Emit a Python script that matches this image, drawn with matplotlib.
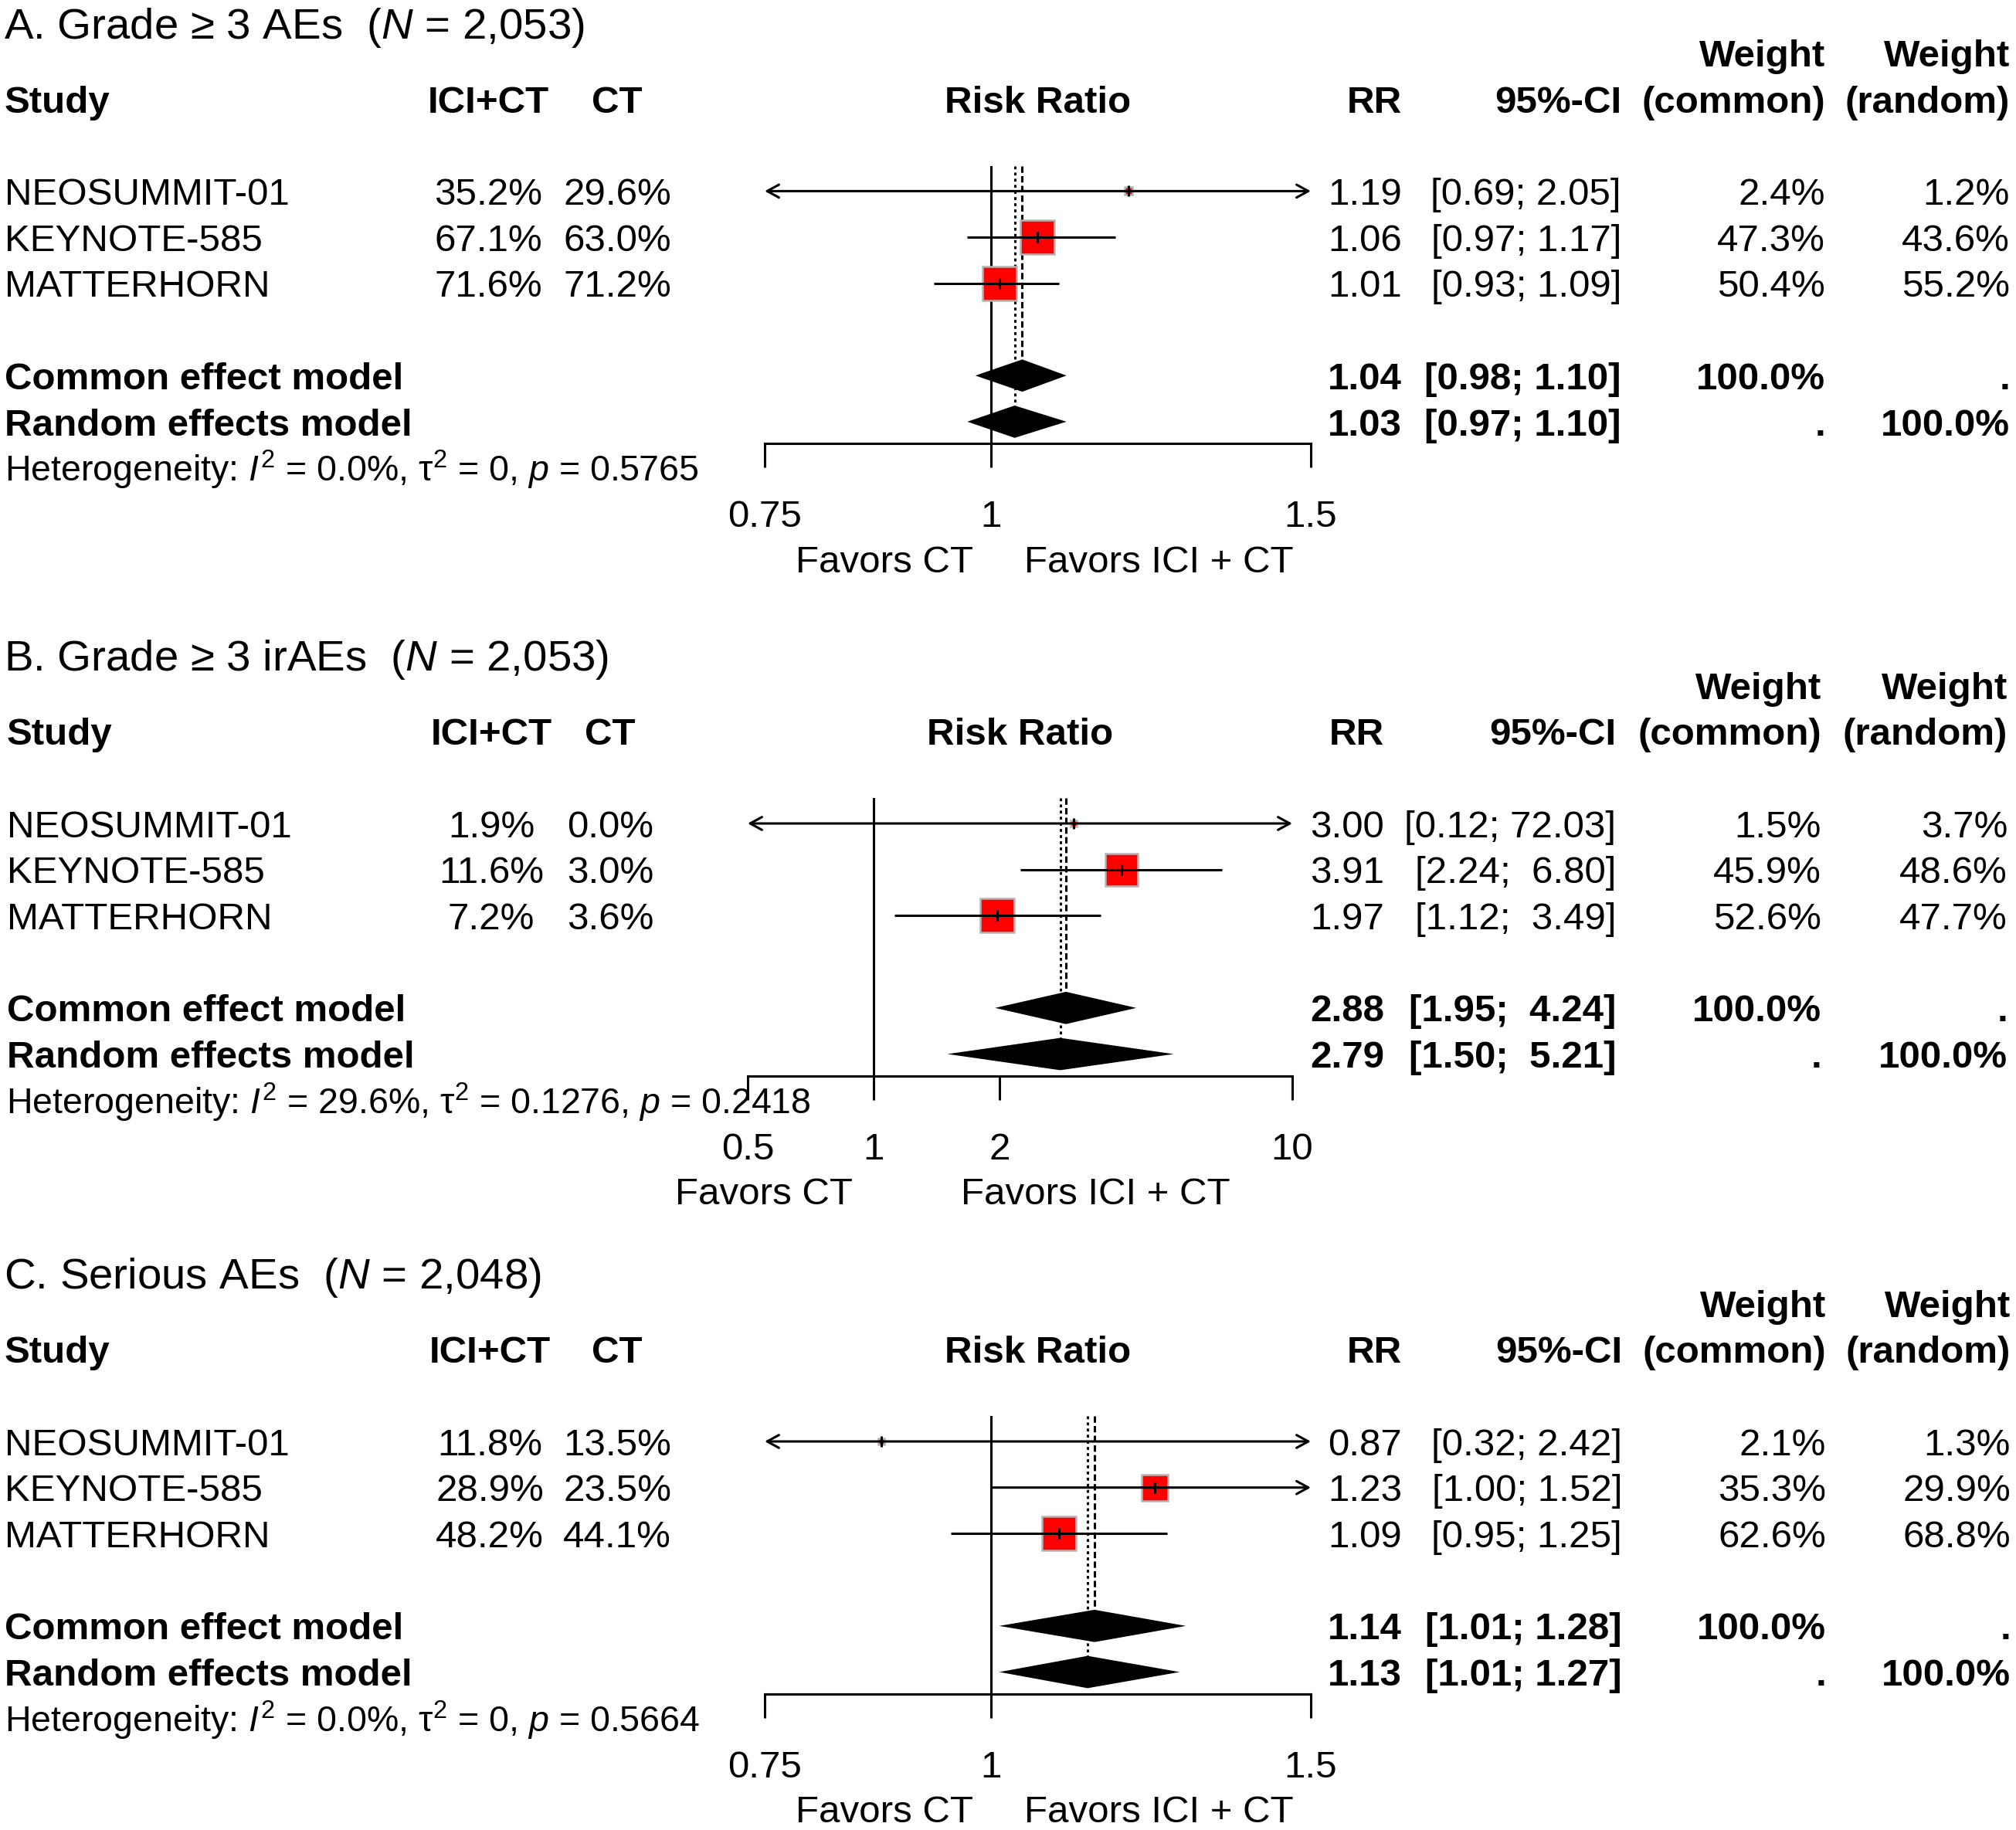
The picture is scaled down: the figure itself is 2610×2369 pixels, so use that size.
import numpy as np
import matplotlib
matplotlib.use("Agg")
import matplotlib.pyplot as plt
from matplotlib.ticker import FixedLocator, FixedFormatter, NullLocator

plt.rcParams['font.family'] = ['Liberation Sans', 'DejaVu Sans']
plt.rcParams['mathtext.fontset'] = 'custom'
plt.rcParams['mathtext.rm'] = 'Liberation Sans'
plt.rcParams['mathtext.it'] = 'Liberation Sans:italic'
plt.rcParams['mathtext.bf'] = 'Liberation Sans:bold'

# ---------------- data ----------------
studies = ["NEOSUMMIT-01", "KEYNOTE-585", "MATTERHORN"]

a_title = "A. Grade ≥ 3 AEs"
a_n = "2,053"
a_ici = [35.2, 67.1, 71.6]
a_ct = [29.6, 63.0, 71.2]
a_rr = [1.19, 1.06, 1.01]
a_lo = [0.69, 0.97, 0.93]
a_hi = [2.05, 1.17, 1.09]
a_wc = [2.4, 47.3, 50.4]
a_wr = [1.2, 43.6, 55.2]
a_common = [1.04, 0.98, 1.10]
a_random = [1.03, 0.97, 1.10]
a_het = ["0.0%", "0", "0.5765"]
a_ticks = [0.75, 1, 1.5]
a_ticklabels = ["0.75", "1", "1.5"]

b_title = "B. Grade ≥ 3 irAEs"
b_n = "2,053"
b_ici = [1.9, 11.6, 7.2]
b_ct = [0.0, 3.0, 3.6]
b_rr = [3.00, 3.91, 1.97]
b_lo = [0.12, 2.24, 1.12]
b_hi = [72.03, 6.80, 3.49]
b_wc = [1.5, 45.9, 52.6]
b_wr = [3.7, 48.6, 47.7]
b_common = [2.88, 1.95, 4.24]
b_random = [2.79, 1.50, 5.21]
b_het = ["29.6%", "0.1276", "0.2418"]
b_ticks = [0.5, 1, 2, 10]
b_ticklabels = ["0.5", "1", "2", "10"]

c_title = "C. Serious AEs"
c_n = "2,048"
c_ici = [11.8, 28.9, 48.2]
c_ct = [13.5, 23.5, 44.1]
c_rr = [0.87, 1.23, 1.09]
c_lo = [0.32, 1.00, 0.95]
c_hi = [2.42, 1.52, 1.25]
c_wc = [2.1, 35.3, 62.6]
c_wr = [1.3, 29.9, 68.8]
c_common = [1.14, 1.01, 1.28]
c_random = [1.13, 1.01, 1.27]
c_het = ["0.0%", "0", "0.5664"]
c_ticks = [0.75, 1, 1.5]
c_ticklabels = ["0.75", "1", "1.5"]

label_left = "Favors CT"
label_right = "Favors ICI + CT"

panels = [
    dict(title=a_title, n=a_n, ici=a_ici, ct=a_ct, rr=a_rr, lo=a_lo, hi=a_hi, wc=a_wc, wr=a_wr,
         common=a_common, random=a_random, het=a_het, ticks=a_ticks, ticklabels=a_ticklabels),
    dict(title=b_title, n=b_n, ici=b_ici, ct=b_ct, rr=b_rr, lo=b_lo, hi=b_hi, wc=b_wc, wr=b_wr,
         common=b_common, random=b_random, het=b_het, ticks=b_ticks, ticklabels=b_ticklabels),
    dict(title=c_title, n=c_n, ici=c_ici, ct=c_ct, rr=c_rr, lo=c_lo, hi=c_hi, wc=c_wc, wr=c_wr,
         common=c_common, random=c_random, het=c_het, ticks=c_ticks, ticklabels=c_ticklabels),
]

# ---------------- layout (pixels) ----------------
W, H = 2610, 2369
ROW = 59.7
FS = 35.5
TFS = 40.6
HFS = 33.5
LW = 2.2
layouts = [
    dict(base=128.0, study_x=6, ici_c=632, ct_c=799, rr_r=1815, ci_r=2099, wc_r=2363, wr_r=2602,
         plot_l=990, plot_r=1697, fav_l=1144.5, fav_r=1500, het_x=6),
    dict(base=946.6, study_x=9, ici_c=636, ct_c=790, rr_r=1792, ci_r=2092, wc_r=2358, wr_r=2599,
         plot_l=968, plot_r=1673, fav_l=989.5, fav_r=1418, het_x=8),
    dict(base=1746.6, study_x=6, ici_c=634, ct_c=799, rr_r=1815, ci_r=2100, wc_r=2364, wr_r=2603,
         plot_l=990, plot_r=1697, fav_l=1144.5, fav_r=1500, het_x=6),
]
ROW_TOP = 1.45
ROW_AXIS = 7.47
DIA_H = 0.35

fig = plt.figure(figsize=(W / 100, H / 100), dpi=100)
ov = fig.add_axes([0, 0, 1, 1])
ov.set_xlim(0, W)
ov.set_ylim(H, 0)
ov.axis('off')


def em(size):
    return size * 100 / 72


def put(x, yc, s, ha='left', bold=False, size=FS):
    ov.text(x, yc + 0.358 * em(size), s, ha=ha, va='baseline', fontsize=size,
            fontweight='bold' if bold else 'normal')


def fmt_ci(lo, hi, wlo, whi):
    return "[" + f"{lo:.2f}".rjust(wlo) + "; " + f"{hi:.2f}".rjust(whi) + "]"


for P, L in zip(panels, layouts):
    base = L['base']

    def ry(r):
        return base + r * ROW

    put(5, base - 98.5, P['title'] + "  ($\\mathit{N}$ = " + P['n'] + ")", size=TFS)

    # headers
    put(L['study_x'], ry(0), "Study", bold=True)
    put(L['ici_c'], ry(0), "ICI+CT", 'center', True)
    put(L['ct_c'], ry(0), "CT", 'center', True)
    put((L['plot_l'] + L['plot_r']) / 2, ry(0), "Risk Ratio", 'center', True)
    put(L['rr_r'], ry(0), "RR", 'right', True)
    put(L['ci_r'], ry(0), "95%-CI", 'right', True)
    put(L['wc_r'], ry(-1), "Weight", 'right', True)
    put(L['wc_r'], ry(0), "(common)", 'right', True)
    put(L['wr_r'], ry(-1), "Weight", 'right', True)
    put(L['wr_r'], ry(0), "(random)", 'right', True)

    all_lo = list(P['lo']) + [P['common'][1], P['random'][1]]
    all_hi = list(P['hi']) + [P['common'][2], P['random'][2]]
    wlo = max(len(f"{v:.2f}") for v in all_lo)
    whi = max(len(f"{v:.2f}") for v in all_hi)

    study_rows = [2 + i for i in range(len(studies))]
    for i, r in enumerate(study_rows):
        put(L['study_x'], ry(r), studies[i])
        put(L['ici_c'], ry(r), f"{P['ici'][i]:.1f}%", 'center')
        put(L['ct_c'], ry(r), f"{P['ct'][i]:.1f}%", 'center')
        put(L['rr_r'], ry(r), f"{P['rr'][i]:.2f}", 'right')
        put(L['ci_r'], ry(r), fmt_ci(P['lo'][i], P['hi'][i], wlo, whi), 'right')
        put(L['wc_r'], ry(r), f"{P['wc'][i]:.1f}%", 'right')
        put(L['wr_r'], ry(r), f"{P['wr'][i]:.1f}%", 'right')

    r_com = study_rows[-1] + 2
    r_ran = r_com + 1
    put(L['study_x'], ry(r_com), "Common effect model", bold=True)
    put(L['rr_r'], ry(r_com), f"{P['common'][0]:.2f}", 'right', True)
    put(L['ci_r'], ry(r_com), fmt_ci(P['common'][1], P['common'][2], wlo, whi), 'right', True)
    put(L['wc_r'], ry(r_com), "100.0%", 'right', True)
    put(L['wr_r'], ry(r_com), ".", 'right', True)
    put(L['study_x'], ry(r_ran), "Random effects model", bold=True)
    put(L['rr_r'], ry(r_ran), f"{P['random'][0]:.2f}", 'right', True)
    put(L['ci_r'], ry(r_ran), fmt_ci(P['random'][1], P['random'][2], wlo, whi), 'right', True)
    put(L['wc_r'], ry(r_ran), ".", 'right', True)
    put(L['wr_r'], ry(r_ran), "100.0%", 'right', True)

    i2, tau2, pval = P['het']
    put(L['het_x'], ry(r_ran + 1.02),
        "Heterogeneity: $\\mathit{I}^{2}$ = " + i2 +
        ", $\\mathrm{\\tau}^{2}$ = " + tau2 + ", $\\mathit{p}$ = " + pval, size=HFS)

    # ---------- forest axes ----------
    y_top = ry(ROW_TOP)
    y_ax = ry(ROW_AXIS)
    ax = fig.add_axes([L['plot_l'] / W, 1 - y_ax / H,
                       (L['plot_r'] - L['plot_l']) / W, (y_ax - y_top) / H])
    ax.patch.set_alpha(0)
    ax.set_xscale('log')
    xmin, xmax = P['ticks'][0], P['ticks'][-1]
    ax.set_xlim(xmin, xmax)
    ax.set_ylim(ROW_AXIS, ROW_TOP)
    for s in ['top', 'left', 'right']:
        ax.spines[s].set_visible(False)
    ax.spines['bottom'].set_linewidth(LW)
    ax.set_yticks([])
    ax.xaxis.set_major_locator(FixedLocator(P['ticks']))
    ax.xaxis.set_major_formatter(FixedFormatter(P['ticklabels']))
    ax.xaxis.set_minor_locator(NullLocator())
    ax.tick_params(axis='x', direction='out', length=22.3, width=LW, pad=30.3,
                   labelsize=FS)

    # reference and summary lines
    ax.axvline(1, color='black', lw=LW, zorder=1)
    ax.plot([P['common'][0]] * 2, [ROW_TOP, r_com - DIA_H], color='black', lw=LW,
            ls=(0, (2.7, 1.4)), zorder=1, clip_on=False)
    ax.plot([P['random'][0]] * 2, [ROW_TOP, r_ran - DIA_H], color='black', lw=LW,
            ls=(0, (1.2, 1.4)), zorder=1, clip_on=False)

    wmax = max(P['wc'])
    for i, r in enumerate(study_rows):
        est, lo, hi = P['rr'][i], P['lo'][i], P['hi'][i]
        ms = 32 * np.sqrt(P['wc'][i] / wmax)
        ax.plot([est], [r], marker='s', ms=ms, mfc='#ff0000', mec='#b4b4b4', mew=1.8,
                ls='none', zorder=3, clip_on=False)
        lo_c = max(lo, xmin)
        hi_c = min(hi, xmax)
        style = {(False, False): '-', (True, False): '<-', (False, True): '->', (True, True): '<->'}[
            (lo < xmin, hi > xmax)]
        if style == '-':
            ax.plot([lo_c, hi_c], [r, r], color='black', lw=LW, zorder=4, clip_on=False,
                    solid_capstyle='butt')
        else:
            ax.annotate("", xy=(hi_c, r), xytext=(lo_c, r),
                        arrowprops=dict(arrowstyle=style + ",head_length=0.55,head_width=0.3",
                                        lw=LW, color='black', shrinkA=0, shrinkB=0,
                                        mutation_scale=20),
                        zorder=4, annotation_clip=False)
        ax.plot([est], [r], marker='|', ms=10, mew=2.2, color='black', ls='none',
                zorder=5, clip_on=False)

    for (est, lo, hi), r in [(P['common'], r_com), (P['random'], r_ran)]:
        ax.fill([lo, est, hi, est], [r, r - DIA_H, r, r + DIA_H], color='black', lw=0, zorder=3)

    # favours labels
    put(L['fav_l'], y_ax + 149, label_left, 'center')
    put(L['fav_r'], y_ax + 149, label_right, 'center')

fig.savefig("out.png", dpi=100)
